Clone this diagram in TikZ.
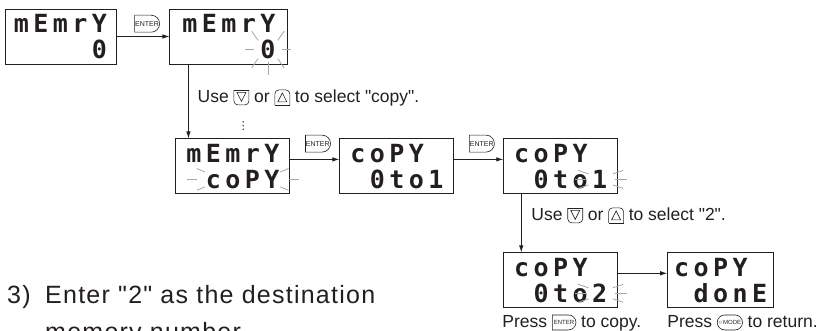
\documentclass[tikz,border=0pt]{standalone}
\usepackage{fontspec}
\setmainfont{Liberation Sans}
\newfontfamily\lcdfont{DejaVu Sans Mono}
\newfontfamily\stepfont{Liberation Sans}[LetterSpace=5]
\newfontfamily\symfont{DejaVu Sans}
\usetikzlibrary{arrows.meta,positioning,calc,shapes.misc}
\definecolor{Ink}{HTML}{231F20}
\definecolor{Blink}{HTML}{A6A6A6}

% one 7-segment cell and a row of five
\newcommand\lcdcell[1]{\makebox[19.5pt]{#1}}
\newcommand\lcdrow[5]{\lcdcell{#1}\lcdcell{#2}\lcdcell{#3}\lcdcell{#4}\lcdcell{#5}}

\tikzset{
  enterkey/.style={rounded rectangle, rounded rectangle left arc=none, draw=Ink, line width=0.6pt, inner xsep=1.5pt, inner ysep=0pt, minimum height=17pt, text=Ink, font=\fontsize{7}{7}\selectfont},
  modekey/.style={rounded rectangle, draw=Ink, line width=0.6pt, inner xsep=1pt, inner ysep=0pt, minimum height=15pt, text=Ink, font=\fontsize{6}{6}\selectfont}
}

% keys used inside the texts
\newcommand\keydown{\tikz[x=1pt,y=1pt,baseline=0pt,line width=0.6pt]{%
  \draw[Ink, rounded corners=4pt] (0,12.5) -- (0,-2.5) -- (15,-2.5) -- (15,12.5);
  \draw[Ink] (0,12.5) -- (15,12.5);
  \draw[Ink] (3,10) -- (12,10) -- (7.5,1) -- cycle;}}
\newcommand\keyup{\tikz[x=1pt,y=1pt,baseline=0pt,line width=0.6pt]{%
  \draw[Ink, rounded corners=4pt] (0,-2.5) -- (0,12.5) -- (15,12.5) -- (15,-2.5);
  \draw[Ink] (0,-2.5) -- (15,-2.5);
  \draw[Ink] (3,0.5) -- (12,0.5) -- (7.5,9.5) -- cycle;}}
\newcommand\keyenter{\tikz[baseline={([yshift=3pt]k.south)}]
  \node[enterkey, minimum height=15pt, font=\fontsize{6}{6}\selectfont] (k) {ENTER};}
\newcommand\keymode{\tikz[baseline={([yshift=3pt]k.south)}]
  \node[modekey] (k) {○\,MODE};}

% blinking marks round a character
\newcommand\blinkrays[4]{\foreach \a in {#4}
  \draw[blinkray] ($(#1)+(\a:#2)$) -- ($(#1)+(\a:#3)$);}

\begin{document}
\begin{tikzpicture}[x=1pt, y=1pt,
    lcd/.style={draw=Ink, line width=0.9pt, minimum width=114pt, minimum height=55pt, inner sep=0pt, align=left, text=Ink, font=\lcdfont\bfseries\fontsize{25}{26}\selectfont},
    arrow/.style={-{Latex[length=7pt,width=4.5pt]}, line width=0.8pt, draw=Ink},
    note/.style={inner sep=0pt, text=Ink, font=\fontsize{17.5}{20}\selectfont},
    steptext/.style={inner sep=0pt, text=Ink, font=\stepfont\fontsize{25}{30}\selectfont},
    blinkray/.style={draw=Blink, line width=0.8pt}
  ]
  \useasboundingbox (0,0) rectangle (824,-331);

  % displays
  \node[lcd, minimum width=111pt] (memory0) at (60.5,-36.5) {\lcdrow{m}{E}{m}{r}{Y}\\\lcdrow{}{}{}{}{0}};
  \node[lcd, minimum width=118pt, right=53pt of memory0] (memory0sel) {\lcdrow{m}{E}{m}{r}{Y}\\\lcdrow{}{}{}{}{0}};
  \node[lcd, below right=74pt and 6pt of memory0sel.south west] (memorycopy) {\lcdrow{m}{E}{m}{r}{Y}\\\lcdrow{}{c}{o}{P}{Y}};
  \node[lcd, right=49pt of memorycopy] (copy01) {\lcdrow{c}{o}{P}{Y}{}\\\lcdrow{}{0}{t}{o}{1}};
  \node[lcd, right=49pt of copy01] (copy01sel) {\lcdrow{c}{o}{P}{Y}{}\\\lcdrow{}{0}{t}{o}{1}};
  \node[lcd, below=58pt of copy01sel] (copy02) {\lcdrow{c}{o}{P}{Y}{}\\\lcdrow{}{0}{t}{o}{2}};
  \node[lcd, minimum width=106pt, right=49pt of copy02] (copydone) {\lcdrow{c}{o}{P}{Y}{}\\\lcdrow{}{d}{o}{n}{E}};

  % blinking characters
  \coordinate (blink0) at ([xshift=39pt,yshift=-13pt]memory0sel.center);
  \coordinate (blinkcopy) at ([xshift=9.75pt,yshift=-13pt]memorycopy.center);
  \coordinate (blink1) at ([xshift=40pt,yshift=-13pt]copy01sel.center);
  \coordinate (blink2) at ([xshift=40pt,yshift=-13pt]copy02.center);
  \blinkrays{blink0}{14pt and 13pt}{23pt and 26pt}{0,45,135,180,225,270,315}
  \blinkrays{blinkcopy}{46pt and 13pt}{56pt and 19pt}{0,35,-35,180,145,215}
  \blinkrays{blink1}{14pt and 11pt}{26pt and 18pt}{0,30,-30,180,150,210}
  \blinkrays{blink2}{14pt and 11pt}{26pt and 18pt}{0,30,-30,180,150,210}

  % keys on the arrows
  \node[enterkey, minimum width=28pt, anchor=south] (enter1) at ($(memory0.east)!.5!(memory0sel.west)+(4pt,4pt)$) {ENTER};
  \node[enterkey, minimum width=28pt, anchor=south] (enter2) at ($(memorycopy.east)!.5!(copy01.west)+(3pt,14pt)$) {ENTER};
  \node[enterkey, minimum width=28pt, anchor=south] (enter3) at ($(copy01.east)!.5!(copy01sel.west)+(3pt,14pt)$) {ENTER};

  \draw[arrow] (memory0) -- (memory0sel);
  \draw[arrow] ([xshift=19pt]memory0sel.south west) -- ([xshift=19pt]memory0sel.south west |- memorycopy.north);
  \draw[arrow] ([yshift=7pt]memorycopy.east) -- ([yshift=7pt]copy01.west);
  \draw[arrow] ([yshift=7pt]copy01.east) -- ([yshift=7pt]copy01sel.west);
  \draw[arrow] ([xshift=18pt]copy01sel.south west) -- ([xshift=18pt]copy01sel.south west |- copy02.north);
  \draw[arrow] ([yshift=7pt]copy02.east) -- ([yshift=7pt]copydone.west);

  % instructions
  \node[note, anchor=base west] (selcopy) at ([xshift=28pt,yshift=-38pt]memory0sel.south west) {Use \keydown{} or \keyup{} to select \textquotedbl copy\textquotedbl.};
  \node[text=Ink, font=\symfont\fontsize{11}{11}\selectfont] (more) at ([xshift=10.5pt,yshift=12pt]memorycopy.north) {⋮};
  \node[note, anchor=base west] (sel2) at ([xshift=28pt,yshift=-26pt]copy01sel.south west) {Use \keydown{} or \keyup{} to select \textquotedbl 2\textquotedbl.};
  \node[note, anchor=base west] (presscopy) at ([xshift=-1pt,yshift=-19pt]copy02.south west) {Press \keyenter{} to copy.};
  \node[note, anchor=base west] (pressreturn) at ([yshift=-19pt]copydone.south west) {Press \keymode{} to return.};

  % step text
  \node[steptext, anchor=base west] (stepno) at (7,-303) {3)};
  \node[steptext, anchor=base west] (steptext1) at (45,-303) {Enter "2" as the destination};
  \node[steptext, anchor=base west] (steptext2) at (45,-340) {memory number.};
\end{tikzpicture}
\end{document}
